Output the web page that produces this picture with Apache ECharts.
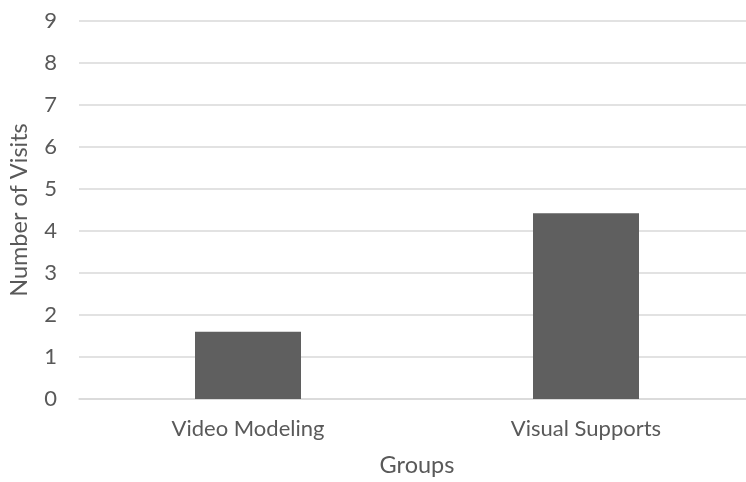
<!DOCTYPE html>
<html>
<head>
<meta charset="utf-8">
<script src="https://cdn.jsdelivr.net/npm/echarts@6/dist/echarts.min.js"></script>
<style>
  html, body { margin: 0; padding: 0; background: #fff; }
  #chart { width: 746px; height: 482px; }
</style>
</head>
<body>
<div id="chart"></div>
<script>
// Average number of visits per group
const groups = ['Video Modeling', 'Visual Supports'];
const visits = [1.6, 4.42];
const yTicks = { min: 0, max: 9, interval: 1 };

const textColor = '#595959';
const fontFamily = 'Lato, "Open Sans", sans-serif';

const chart = echarts.init(document.getElementById('chart'), null, { renderer: 'canvas' });
chart.setOption({
  animation: false,
  grid: { left: 79, top: 21, width: 676, height: 378, containLabel: false, outerBoundsMode: 'none' },
  xAxis: {
    type: 'category',
    data: groups,
    name: 'Groups',
    nameLocation: 'middle',
    nameGap: 54,
    nameTextStyle: { color: textColor, fontSize: 23.5, fontFamily },
    axisLine: { show: true, lineStyle: { color: '#d9d9d9', width: 1.5 } },
    axisTick: { show: false },
    axisLabel: { color: textColor, fontSize: 22, fontFamily, margin: 19 },
  },
  yAxis: {
    type: 'value',
    min: yTicks.min,
    max: yTicks.max,
    interval: yTicks.interval,
    name: 'Number of Visits',
    nameLocation: 'middle',
    nameGap: 48,
    nameRotate: 90,
    nameTextStyle: { color: textColor, fontSize: 23.5, fontFamily },
    axisLine: { show: false },
    axisTick: { show: false },
    axisLabel: { color: textColor, fontSize: 22, fontFamily, margin: 22 },
    splitLine: { lineStyle: { color: '#d9d9d9', width: 1.5 } }
  },
  series: [{
    type: 'bar',
    data: visits,
    barWidth: 106,
    itemStyle: { color: '#5f5f5f' }
  }]
});
</script>
</body>
</html>
